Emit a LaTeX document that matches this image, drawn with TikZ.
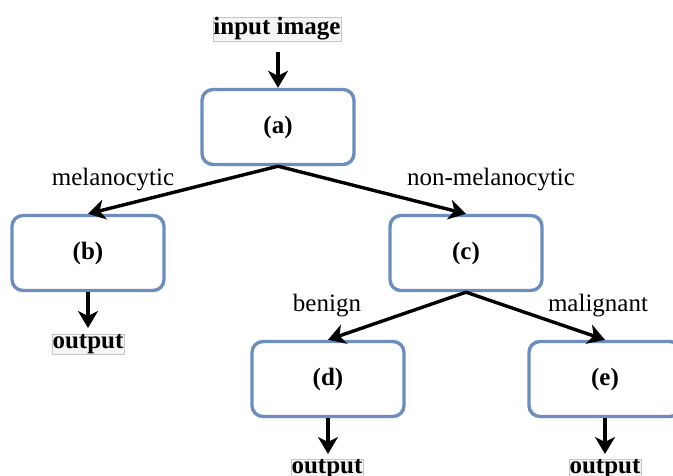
\documentclass[tikz,border=0pt]{standalone}
\usepackage{fontspec}
\setmainfont{Liberation Serif}
\usetikzlibrary{arrows.meta}
\definecolor{boxblue}{RGB}{108,142,191}
\begin{document}
\begin{tikzpicture}[x=1pt,y=-1pt,
  stage/.style={draw=boxblue, line width=3.4pt, rounded corners=11pt, fill=white,
    minimum width=152pt, minimum height=75pt, inner sep=0pt, font=\fontsize{25}{28}\selectfont\bfseries},
  tag/.style={font=\fontsize{25}{28}\selectfont\bfseries, fill=gray!8, draw=gray!45, line width=0.4pt,
    inner sep=0.3pt},
  branch/.style={font=\fontsize{25}{28}\selectfont},
  flow/.style={line width=3.4pt, -{Stealth[length=17pt, width=20pt, inset=5pt]}}]
\useasboundingbox (0,0) rectangle (673,476);

\node[stage] (a) at (278,127) {(a)};
\node[stage] (b) at (88,253) {(b)};
\node[stage] (c) at (466,253) {(c)};
\node[stage] (d) at (328,379) {(d)};
\node[stage] (e) at (605,379) {(e)};

\node[tag] (in) at (277,29) {input image};
\node[tag] (ob) at (88,344) {output};
\node[tag] (od) at (327,469) {output};
\node[tag] (oe) at (605,469) {output};

\node[branch] (lm) at (113,180) {melanocytic};
\node[branch] (ln) at (491,180) {non-melanocytic};
\node[branch] (lb) at (327,306) {benign};
\node[branch] (lg) at (598,306) {malignant};

\draw[flow] (278,52) -- (a.north);
\draw[flow] (a.south) -- (b.north);
\draw[flow] (a.south) -- (c.north);
\draw[flow] (c.south) -- (d.north);
\draw[flow] (c.south) -- (e.north);
\draw[flow] (b.south) -- (88,328);
\draw[flow] (d.south) -- (328,454);
\draw[flow] (e.south) -- (605,454);
\end{tikzpicture}
\end{document}
